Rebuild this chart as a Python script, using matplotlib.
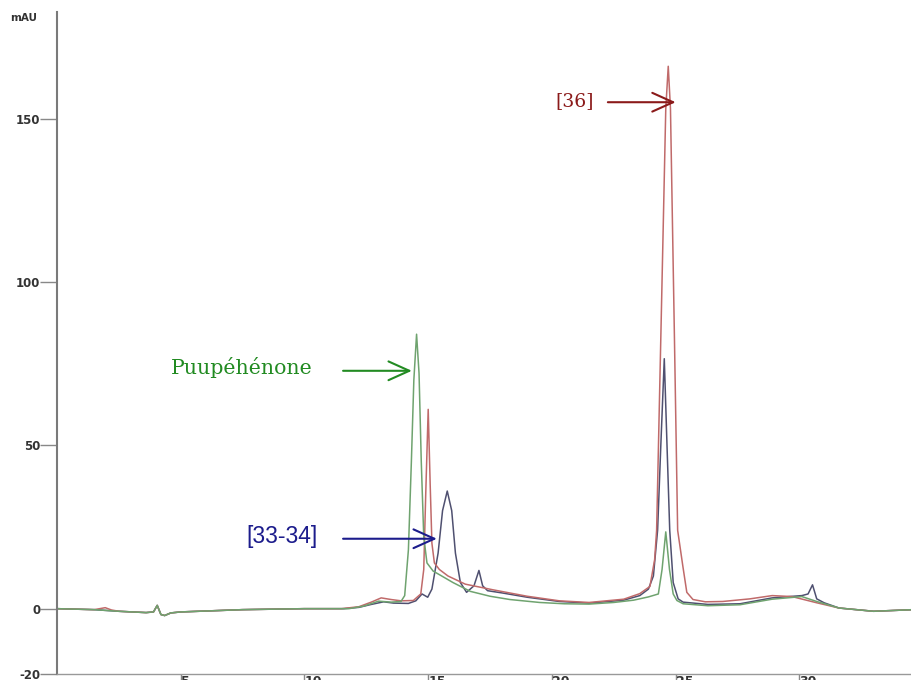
from matplotlib import pyplot as plt

# retention time (min) / absorbance (mAU)
green_t = [0.0, 1.5, 2.5, 3.6, 3.9, 4.05, 4.2, 4.35, 4.6, 5.0, 7.5, 10.0, 11.8, 12.4, 13.0, 13.5,
           13.9, 14.05, 14.2, 14.32, 14.42, 14.53, 14.63, 14.72, 14.82, 14.95, 15.2, 15.5, 16.0,
           16.7, 17.5, 18.3, 19.5, 20.5, 21.5, 22.5, 23.3, 23.9, 24.3, 24.45, 24.6, 24.75, 24.9,
           25.05, 25.3, 26.3, 27.6, 28.9, 30.1, 30.7, 31.6, 33.0, 34.6]
green_v = [0.0, -0.3, -0.8, -1.2, -1.0, 1.0, -1.8, -2.1, -1.3, -1.0, -0.3, 0.0, 0.0, 0.8, 2.3, 2.0,
           2.2, 4.0, 18.0, 45.0, 70.0, 84.0, 72.0, 45.0, 22.0, 14.0, 11.5, 10.2, 8.0,
           5.3, 3.8, 2.8, 1.9, 1.5, 1.4, 1.9, 2.6, 3.6, 4.5, 12.0, 23.5, 12.0, 4.5,
           2.5, 1.5, 0.9, 1.2, 2.9, 3.7, 2.2, 0.2, -0.8, -0.3]

red_t = [0.0, 1.5, 1.95, 2.2, 2.5, 3.6, 3.9, 4.05, 4.2, 4.35, 4.6, 5.0, 7.5, 10.0, 11.5, 12.2,
         12.7, 13.1, 13.5, 13.9, 14.4, 14.7, 14.82, 14.9, 15.0, 15.08, 15.15, 15.25, 15.45, 15.8,
         16.5, 17.6, 19.0, 20.3, 21.5, 22.9, 23.55, 23.96, 24.15, 24.23, 24.4, 24.6, 24.7, 24.79,
         24.95, 25.08, 25.29, 25.45, 25.7, 26.2, 26.9, 28.0, 28.9, 29.7, 30.7, 31.6, 33.0, 34.6]
red_v = [0.0, -0.3, 0.3, -0.4, -0.8, -1.2, -1.0, 1.0, -1.8, -2.1, -1.3, -1.0, -0.3, 0.0, 0.0, 0.6,
         2.0, 3.3, 2.8, 2.4, 2.5, 4.5, 12.0, 35.0, 61.0, 38.0, 20.0, 14.0, 12.0, 10.0,
         7.5, 5.8, 3.8, 2.4, 1.9, 2.9, 4.6, 6.8, 15.0, 24.0, 83.0, 153.0, 166.0, 153.0,
         83.0, 24.0, 13.0, 5.0, 2.8, 2.1, 2.2, 3.0, 4.0, 3.7, 1.8, 0.2, -0.8, -0.3]

blue_t = [0.0, 1.5, 2.5, 3.6, 3.9, 4.05, 4.2, 4.35, 4.6, 5.0, 7.5, 10.0, 11.6, 12.2, 12.7, 13.2,
          13.6, 14.2, 14.5, 14.75, 14.98, 15.15, 15.4, 15.58, 15.77, 15.95, 16.1, 16.3, 16.55,
          16.85, 17.05, 17.2, 17.4, 18.0, 19.0, 20.3, 21.5, 22.9, 23.55, 23.9, 24.1, 24.27, 24.4,
          24.54, 24.65, 24.76, 24.9, 25.1, 25.3, 26.3, 27.6, 28.9, 30.1, 30.35, 30.53, 30.7, 31.0,
          31.6, 33.0, 34.6]
blue_v = [0.0, -0.3, -0.8, -1.2, -1.0, 1.0, -1.8, -2.1, -1.3, -1.0, -0.3, 0.0, 0.0, 0.4, 1.3, 2.1,
          1.7, 1.6, 2.4, 4.5, 3.5, 6.0, 17.0, 30.0, 36.0, 30.0, 17.0, 8.0, 5.0,
          7.0, 11.7, 7.0, 5.5, 4.8, 3.5, 2.2, 1.7, 2.6, 4.0, 6.0, 10.0, 24.0, 50.0,
          76.5, 50.0, 24.0, 8.0, 3.0, 2.0, 1.3, 1.5, 3.3, 4.0, 4.5, 7.3, 3.0, 1.8,
          0.2, -0.8, -0.3]

y_ticks = [-20, 0, 50, 100, 150]
x_ticks = [5, 10, 15, 20, 25, 30]

fig = plt.figure(figsize=(9.12, 6.8), dpi=100)
ax = fig.add_axes([0.0625, 0.0088, 0.9375, 0.9735])

ax.plot(blue_t, blue_v, color='#4f5070', lw=1.1)
ax.plot(red_t, red_v, color='#c06a6a', lw=1.1)
ax.plot(green_t, green_v, color='#6fa36f', lw=1.1)

ax.set_xlim(0, 34.55)
ax.set_ylim(-20, 182.6)

ax.spines['top'].set_visible(False)
ax.spines['right'].set_visible(False)
ax.spines['left'].set_color('#7a7a7a')
ax.spines['left'].set_linewidth(1.5)
ax.spines['bottom'].set_color('#999999')
ax.spines['bottom'].set_linewidth(1.0)

ax.set_yticks(y_ticks)
ax.set_yticklabels([str(v) for v in y_ticks])
ax.tick_params(axis='y', direction='out', length=12, width=1, color='#888888', pad=0,
               labelsize=8.5, labelcolor='#333333')
ax.set_xticks(x_ticks)
ax.set_xticklabels([str(v) for v in x_ticks])
ax.tick_params(axis='x', direction='out', length=5, width=1, color='#888888', pad=-4,
               labelsize=9, labelcolor='#333333')
for lab in ax.get_yticklabels() + ax.get_xticklabels():
    lab.set_fontweight('bold')
for lab in ax.get_xticklabels():
    lab.set_ha('left')

fig.text(10 / 912, 1 - 18 / 680, 'mAU', fontsize=7.5, fontweight='bold', color='#333333',
         va='center', ha='left')

# labels + arrows
arrow = dict(arrowstyle='->,head_length=1.0,head_width=0.45', lw=1.5, mutation_scale=15,
             shrinkA=0, shrinkB=0)
ax.text(10.34, 73.7, 'Puupéhénone', color='#228b22', fontsize=14.8, family='DejaVu Serif',
        ha='right', va='center')
ax.annotate('', xy=(14.34, 72.8), xytext=(11.56, 72.8), arrowprops=dict(arrow, color='#228b22'))

ax.text(10.55, 22.0, '[33-34]', color='#1c1c8c', fontsize=16.5, family='Liberation Sans',
        ha='right', va='center')
ax.annotate('', xy=(15.35, 21.4), xytext=(11.56, 21.4), arrowprops=dict(arrow, color='#1c1c8c'))

ax.text(21.7, 155.5, '[36]', color='#8b1a1a', fontsize=13.5, family='DejaVu Serif',
        ha='right', va='center')
ax.annotate('', xy=(25.0, 155.0), xytext=(22.26, 155.0), arrowprops=dict(arrow, color='#8b1a1a'))

fig.savefig('out.png', dpi=100)
